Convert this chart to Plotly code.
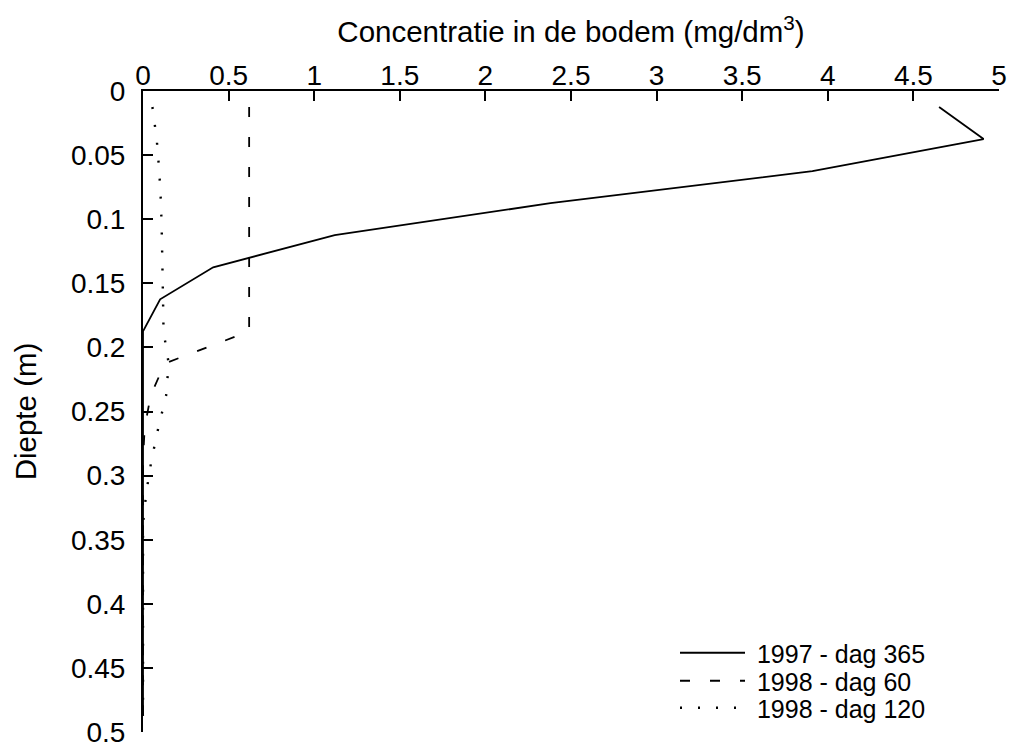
import plotly.graph_objects as go

# Depth (m) of the soil layers
depth = [0.0125, 0.0375, 0.0625, 0.0875, 0.1125, 0.1375, 0.1625, 0.1875,
         0.2125, 0.2375, 0.2625, 0.2875, 0.3125, 0.3375, 0.3625, 0.3875,
         0.4125, 0.4375, 0.4625, 0.4875]

# Concentration in soil (mg/dm3)
c_1997_365 = [4.65, 4.91, 3.91, 2.38, 1.12, 0.41, 0.10, 0.0,
              0.0, 0.0, 0.0, 0.0, 0.0, 0.0, 0.0, 0.0,
              0.0, 0.0, 0.0, 0.0]
c_1998_60 = [0.62, 0.62, 0.62, 0.62, 0.62, 0.62, 0.62, 0.62,
             0.127, 0.045, 0.01, 0.0, 0.0, 0.0, 0.0, 0.0,
             0.0, 0.0, 0.0, 0.0]
c_1998_120 = [0.055, 0.08, 0.095, 0.105, 0.11, 0.115, 0.117, 0.12,
              0.15, 0.135, 0.09, 0.05, 0.02, 0.0, 0.0, 0.0,
              0.0, 0.0, 0.0, 0.0]

names = ["1997 - dag 365", "1998 - dag 60", "1998 - dag 120"]
series = [c_1997_365, c_1998_60, c_1998_120]

x_ticks = [0, 0.5, 1, 1.5, 2, 2.5, 3, 3.5, 4, 4.5, 5]
x_ticklabels = ["0", "0.5", "1", "1.5", "2", "2.5", "3", "3.5", "4", "4.5", "5"]
y_ticks = [0, 0.05, 0.1, 0.15, 0.2, 0.25, 0.3, 0.35, 0.4, 0.45, 0.5]
y_ticklabels = ["0", "0.05", "0.1", "0.15", "0.2", "0.25", "0.3", "0.35", "0.4", "0.45", "0.5"]

dashes = ["solid", "10px,20px", "2px,16px"]
widths = [1.8, 1.8, 2.4]
legends = ["legend", "legend2", "legend3"]

FONT = "Liberation Sans, Arial, sans-serif"

fig = go.Figure()
for nm, vals, d, w, lg in zip(names, series, dashes, widths, legends):
    fig.add_trace(go.Scatter(
        x=vals, y=depth, mode="lines", name="\u00a0" + nm,
        line=dict(color="black", width=w, dash=d),
        legend=lg,
    ))

W, H = 1012, 749
L, R, T, B = 143, 13, 91, 17
pw, ph = W - L - R, H - T - B
row_y = [653, 681, 708]
leg_x = (675 - L) / pw
leg_common = dict(
    xref="paper", yref="paper", xanchor="left", yanchor="middle",
    font=dict(family=FONT, size=25, color="black"),
    bgcolor="rgba(0,0,0,0)", borderwidth=0, itemwidth=65,
    tracegroupgap=0,
)
fig.update_layout(
    width=W, height=H,
    margin=dict(l=L, r=R, t=T, b=B, pad=0, autoexpand=False),
    paper_bgcolor="white", plot_bgcolor="white",
    font=dict(family=FONT, size=28, color="black"),
    showlegend=True,
    legend=dict(x=leg_x, y=(H - B - row_y[0]) / ph, **leg_common),
    legend2=dict(x=leg_x, y=(H - B - row_y[1]) / ph, **leg_common),
    legend3=dict(x=leg_x, y=(H - B - row_y[2]) / ph, **leg_common),
    xaxis=dict(
        side="top", range=[0, 5], tickmode="array",
        tickvals=x_ticks, ticktext=x_ticklabels,
        ticks="inside", ticklen=10, tickwidth=2, tickcolor="black",
        showline=True, linewidth=2, linecolor="black", mirror=False,
        showgrid=False, zeroline=False,
        tickfont=dict(family=FONT, size=28),
        ticklabelstandoff=-7,
        title=dict(text="Concentratie in de bodem (mg/dm<sup>3</sup>)",
                   font=dict(family=FONT, size=29.5), standoff=8),
    ),
    yaxis=dict(
        range=[0.5, 0], tickmode="array",
        tickvals=y_ticks, ticktext=y_ticklabels,
        ticks="inside", ticklen=10, tickwidth=2, tickcolor="black",
        showline=True, linewidth=2, linecolor="black", mirror=False,
        showgrid=False, zeroline=False,
        tickfont=dict(family=FONT, size=28),
        ticklabelstandoff=10,
        title=dict(text="Diepte (m)", font=dict(family=FONT, size=29.5), standoff=26),
    ),
)

fig.write_html("out.html")
